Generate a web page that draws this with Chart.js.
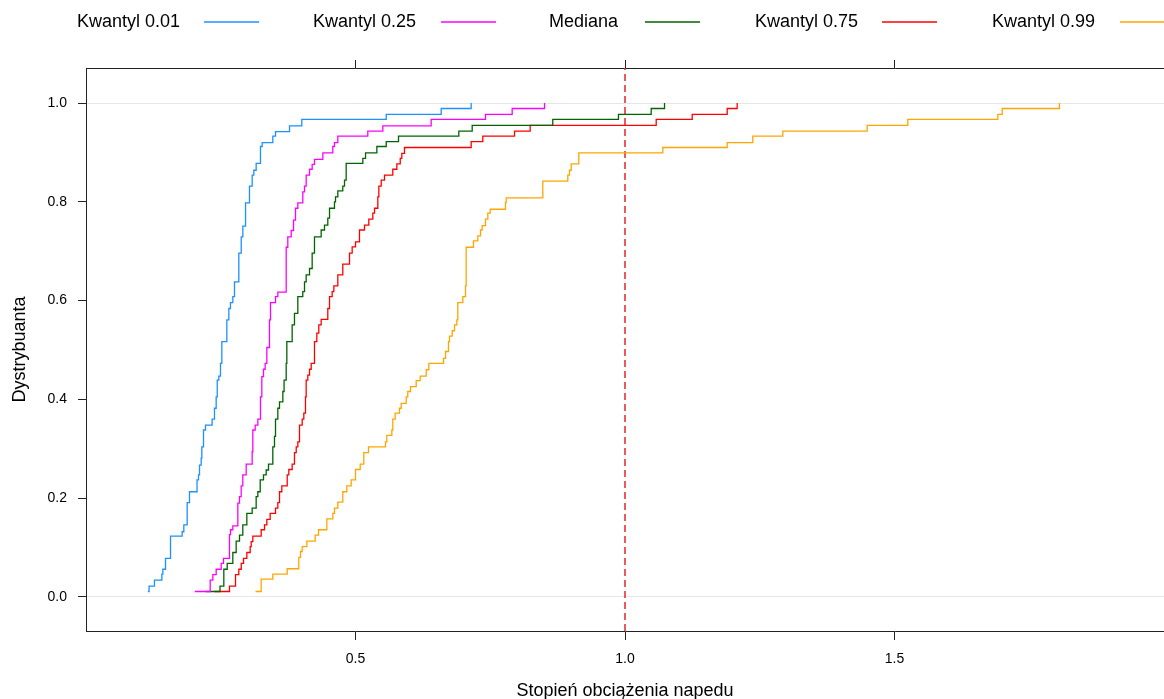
<!DOCTYPE html>
<html>
<head>
<meta charset="utf-8">
<script src="https://cdn.jsdelivr.net/npm/chart.js@4.4.1/dist/chart.umd.min.js"></script>
<style>
html,body{margin:0;padding:0;background:#fff;overflow:hidden;}
#wrap{position:relative;width:1164px;height:699px;overflow:hidden;}
#legend{position:absolute;left:0;top:0;width:1164px;height:44px;font-family:"Liberation Sans",Arial,sans-serif;font-size:18px;color:#000;white-space:nowrap;}
#legend .txt{position:absolute;top:11px;line-height:21px;}
canvas{position:absolute;left:0;top:0;}
</style>
</head>
<body>
<div id="wrap">
  <canvas id="chart" width="1164" height="720"></canvas>
  <div id="legend"></div>
</div>
<script>
// axis limits and ticks
const xMin=0, xMax=2, yMin=-0.069, yMax=1.071;
const xTicks=[0.5,1.0,1.5];
const yTicks=[0,0.2,0.4,0.6,0.8,1.0];
const refX=1.0;

const seriesNames=["Kwantyl 0.01","Kwantyl 0.25","Mediana","Kwantyl 0.75","Kwantyl 0.99"];

// ECDF steps: x where the step happens, y = level after the step
const q01X=[0.1147,0.117,0.127,0.1407,0.1426,0.1475,0.1568,0.1784,0.1815,0.1877,0.192,0.206,0.2087,0.2106,0.2137,0.2149,0.218,0.2217,0.234,0.2384,0.2415,0.2435,0.2464,0.2495,0.252,0.2613,0.265,0.268,0.2724,0.2755,0.2835,0.288,0.291,0.296,0.3033,0.3083,0.3114,0.3157,0.3237,0.3269,0.3466,0.3516,0.3776,0.4004,0.557,0.659,0.7146];
const q01Y=[0.011,0.022,0.034,0.046,0.056,0.078,0.123,0.132,0.146,0.191,0.213,0.237,0.247,0.267,0.281,0.304,0.338,0.348,0.36,0.382,0.405,0.439,0.447,0.473,0.517,0.561,0.584,0.596,0.608,0.638,0.696,0.729,0.751,0.798,0.832,0.854,0.864,0.878,0.912,0.92,0.933,0.942,0.954,0.967,0.977,0.989,1.0];

const q25X=[0.202,0.2304,0.2353,0.2415,0.2508,0.2551,0.2662,0.2681,0.2724,0.2817,0.2848,0.2879,0.2909,0.2972,0.3083,0.3095,0.3139,0.3188,0.3237,0.3262,0.3293,0.3324,0.3355,0.3404,0.3423,0.3516,0.3559,0.3714,0.3744,0.3807,0.385,0.3887,0.393,0.4022,0.4054,0.4085,0.4147,0.4196,0.4239,0.4394,0.4579,0.461,0.4672,0.5228,0.5507,0.6404,0.7412,0.7907,0.8507];
const q25Y=[0.011,0.034,0.045,0.056,0.068,0.078,0.126,0.136,0.144,0.19,0.203,0.225,0.247,0.269,0.294,0.338,0.348,0.36,0.405,0.446,0.461,0.473,0.505,0.561,0.596,0.608,0.617,0.708,0.729,0.742,0.763,0.787,0.798,0.82,0.832,0.854,0.866,0.876,0.886,0.899,0.912,0.92,0.933,0.943,0.954,0.967,0.977,0.989,1.0];

const medX=[0.2217,0.2486,0.2557,0.262,0.2724,0.2786,0.2848,0.2909,0.2984,0.3083,0.3157,0.3188,0.3232,0.3293,0.3343,0.3386,0.3466,0.3497,0.3516,0.3559,0.359,0.3652,0.3675,0.3714,0.3726,0.3825,0.3868,0.393,0.4022,0.4054,0.4085,0.4147,0.4196,0.4239,0.4363,0.4425,0.4486,0.4518,0.461,0.4629,0.4672,0.4764,0.4796,0.4827,0.5136,0.5186,0.5396,0.557,0.5798,0.6917,0.7165,0.866,0.9879,1.0486,1.0733];
const medY=[0.011,0.022,0.056,0.068,0.09,0.113,0.125,0.146,0.169,0.18,0.203,0.213,0.237,0.247,0.257,0.269,0.304,0.325,0.36,0.382,0.395,0.416,0.439,0.473,0.517,0.551,0.574,0.608,0.618,0.638,0.652,0.665,0.696,0.729,0.743,0.753,0.767,0.787,0.8,0.81,0.822,0.832,0.844,0.878,0.888,0.899,0.912,0.922,0.933,0.943,0.955,0.967,0.977,0.989,1.0];

const q75X=[0.2384,0.2662,0.2774,0.2835,0.288,0.2922,0.2984,0.3046,0.3065,0.3095,0.325,0.3312,0.3355,0.3417,0.3516,0.3559,0.359,0.3633,0.3733,0.3763,0.3825,0.3868,0.39,0.393,0.3961,0.4011,0.4041,0.4072,0.4085,0.4115,0.4147,0.4178,0.4239,0.4282,0.4319,0.4363,0.4486,0.4518,0.4567,0.4598,0.4672,0.4764,0.4889,0.4938,0.5,0.5074,0.5167,0.5247,0.5321,0.5353,0.5414,0.5433,0.5477,0.5538,0.5692,0.5767,0.583,0.5859,0.5909,0.7146,0.7362,0.795,0.8241,1.0579,1.1247,1.1896,1.2081];
const q75Y=[0.011,0.022,0.045,0.056,0.068,0.078,0.09,0.102,0.112,0.123,0.136,0.146,0.157,0.169,0.18,0.191,0.213,0.225,0.247,0.258,0.269,0.292,0.304,0.314,0.348,0.36,0.372,0.405,0.439,0.449,0.461,0.473,0.517,0.534,0.551,0.562,0.584,0.608,0.618,0.63,0.652,0.674,0.696,0.709,0.719,0.743,0.753,0.765,0.777,0.787,0.81,0.832,0.844,0.854,0.866,0.877,0.888,0.898,0.91,0.922,0.933,0.943,0.955,0.967,0.977,0.989,1.0];

const q99X=[0.3145,0.325,0.3466,0.3733,0.3948,0.398,0.4011,0.4097,0.4252,0.4314,0.4468,0.4579,0.461,0.4672,0.4764,0.4839,0.492,0.5,0.5087,0.5154,0.5241,0.5557,0.5581,0.5674,0.5692,0.5736,0.5816,0.5848,0.5941,0.597,0.602,0.6126,0.62,0.6312,0.636,0.6633,0.667,0.6725,0.6744,0.6794,0.6837,0.688,0.6898,0.6991,0.7041,0.7053,0.7189,0.7269,0.7319,0.735,0.7412,0.7455,0.7499,0.7783,0.7796,0.8475,0.8939,0.897,0.9002,0.9143,1.0701,1.1896,1.2371,1.2928,1.4493,1.5247,1.6917,1.6998,1.806];
const q99Y=[0.011,0.036,0.046,0.057,0.08,0.092,0.102,0.113,0.125,0.136,0.158,0.169,0.18,0.192,0.213,0.225,0.237,0.258,0.269,0.292,0.304,0.314,0.327,0.338,0.36,0.372,0.382,0.392,0.405,0.416,0.426,0.438,0.447,0.46,0.473,0.483,0.497,0.517,0.528,0.539,0.551,0.561,0.596,0.608,0.63,0.708,0.721,0.731,0.743,0.752,0.765,0.777,0.785,0.799,0.808,0.842,0.854,0.864,0.877,0.899,0.91,0.92,0.933,0.943,0.955,0.967,0.977,0.989,1.0];

const seriesX=[q01X,q25X,medX,q75X,q99X];
const seriesY=[q01Y,q25Y,medY,q75Y,q99Y];
const colors=["#1e90ff","#ff00ff","#006400","#ff0000","#ffa500"];

// legend layout: where each entry's text and line sample start (px)
const legendTextLeft=[77,313,549,755,992];
const legendLineLeft=[204,441,645,882,1120];
const legendLineLen=55, legendLineY=22;

const FONT="'Liberation Sans', Arial, sans-serif";
const AXIS_COL="#222";

const legendEl=document.getElementById("legend");
seriesNames.forEach((name,i)=>{
  const t=document.createElement("span"); t.className="txt"; t.textContent=name;
  t.style.left=legendTextLeft[i]+"px";
  legendEl.appendChild(t);
});

// line samples of the legend, drawn on the canvas like the series
const legendLines={
  id:"legendLines",
  afterDraw(chart){
    const ctx=chart.ctx;
    ctx.save();
    ctx.lineWidth=1.3;
    colors.forEach((c,i)=>{
      ctx.strokeStyle=c;
      ctx.beginPath();
      ctx.moveTo(legendLineLeft[i],legendLineY);
      ctx.lineTo(legendLineLeft[i]+legendLineLen,legendLineY);
      ctx.stroke();
    });
    ctx.restore();
  }
};

const datasets=seriesNames.map((name,i)=>({
  label:name,
  data:seriesX[i].map((x,j)=>({x:x,y:seriesY[i][j]})),
  borderColor:colors[i], borderWidth:1.3,
  pointRadius:0, stepped:"before", fill:false
}));
datasets.push({
  label:"ref",
  data:[{x:refX,y:yMin},{x:refX,y:yMax}],
  borderColor:"#e3262b", borderWidth:1.5, borderDash:[7,4],
  pointRadius:0, fill:false
});

const setTicks=list=>axis=>{ axis.ticks=list.map(v=>({value:v})); };

new Chart(document.getElementById("chart"),{
  type:"line",
  data:{datasets},
  plugins:[legendLines],
  options:{
    responsive:false, animation:false,
    layout:{padding:0},
    plugins:{legend:{display:false}, tooltip:{enabled:false}},
    scales:{
      x:{
        type:"linear", position:"bottom", min:xMin, max:xMax,
        afterBuildTicks:setTicks(xTicks),
        afterFit:s=>{ s.height=89; },
        grid:{drawOnChartArea:false, drawTicks:true, tickLength:9, tickColor:AXIS_COL, color:"transparent"},
        border:{display:true, color:AXIS_COL, width:1},
        ticks:{font:{family:FONT,size:14}, color:"#000", padding:11, maxRotation:0, callback:v=>v.toFixed(1)},
        title:{display:true, text:"Stopień obciążenia napedu", font:{family:FONT,size:18}, color:"#000", padding:{top:0,bottom:18}}
      },
      x2:{
        type:"linear", position:"top", min:xMin, max:xMax,
        afterBuildTicks:setTicks(xTicks),
        afterFit:s=>{ s.height=68; },
        grid:{drawOnChartArea:false, drawTicks:true, tickLength:8, tickColor:AXIS_COL, color:"transparent"},
        border:{display:true, color:AXIS_COL, width:1},
        ticks:{display:false}
      },
      y:{
        type:"linear", position:"left", min:yMin, max:yMax,
        afterBuildTicks:setTicks(yTicks),
        afterFit:s=>{ s.width=86; },
        grid:{drawTicks:true, tickLength:8, tickColor:AXIS_COL,
          color:c=>(c.tick && (c.tick.value===0||c.tick.value===1))?"#e6e6e6":"transparent"},
        border:{display:true, color:AXIS_COL, width:1},
        ticks:{font:{family:FONT,size:14}, color:"#000", padding:11, callback:v=>v.toFixed(1)},
        title:{display:true, text:"Dystrybuanta", font:{family:FONT,size:18}, color:"#000", padding:{top:9,bottom:0}}
      }
    }
  }
});
</script>
</body>
</html>
